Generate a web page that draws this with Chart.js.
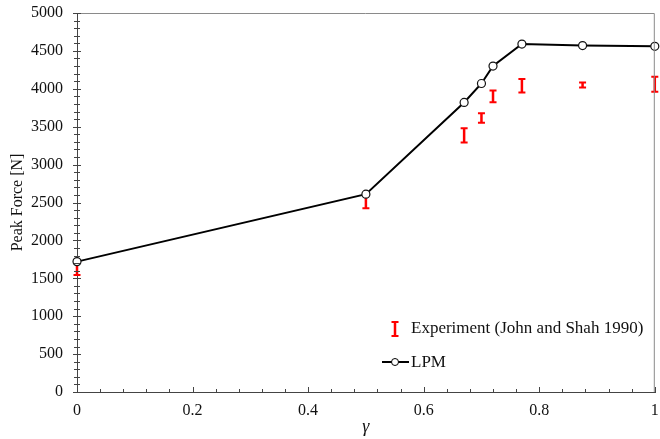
<!DOCTYPE html>
<html>
<head>
<meta charset="utf-8">
<script src="https://cdn.jsdelivr.net/npm/chart.js@4.4.0/dist/chart.umd.min.js"></script>
<style>
    html, body { margin: 0; padding: 0; background: #fff; }
</style>
</head>
<body>
<canvas id="myChart" width="660" height="439"></canvas>
<script>
// LPM model curve
const gammaLPM = [0, 0.5, 0.67, 0.70, 0.72, 0.77, 0.875, 1.0];
const forceLPM = [1720, 2610, 3820, 4070, 4300, 4590, 4570, 4560];

// Experiment (John and Shah 1990): mean and half range of the error bar
const gammaExp = [0, 0.5, 0.67, 0.70, 0.72, 0.77, 0.875, 1.0];
const forceExp = [1630, 2515, 3385, 3615, 3900, 4040, 4050, 4060];
const errExp = [85, 92, 95, 62, 77, 88, 33, 100];

const xTickLabels = ['0', '0.2', '0.4', '0.6', '0.8', '1'];
const yMax = 5000;

const serif = '"Liberation Serif", "Times New Roman", serif';

// error bars, minor ticks, frame and the in-plot legend
const extrasPlugin = {
    id: 'extras',
    beforeDatasetsDraw(chart) {
        const { ctx, scales: { x, y } } = chart;
        ctx.save();
        ctx.strokeStyle = '#ff0000';
        for (let i = 0; i < gammaExp.length; i++) {
            const px = x.getPixelForValue(gammaExp[i]);
            const top = y.getPixelForValue(forceExp[i] + errExp[i]);
            const bot = y.getPixelForValue(forceExp[i] - errExp[i]);
            ctx.lineWidth = 2.5;
            ctx.beginPath();
            ctx.moveTo(px, top);
            ctx.lineTo(px, bot);
            ctx.stroke();
            ctx.lineWidth = 2;
            ctx.beginPath();
            ctx.moveTo(px - 3.5, top);
            ctx.lineTo(px + 3.5, top);
            ctx.moveTo(px - 3.5, bot);
            ctx.lineTo(px + 3.5, bot);
            ctx.stroke();
        }
        ctx.restore();
    },
    afterDraw(chart) {
        const { ctx, chartArea: a, scales: { x, y } } = chart;
        ctx.save();

        // top and right frame
        ctx.strokeStyle = '#8a8a8a';
        ctx.lineWidth = 1;
        ctx.beginPath();
        ctx.moveTo(a.left, a.top + 0.5);
        ctx.lineTo(a.right - 0.5, a.top + 0.5);
        ctx.lineTo(a.right - 0.5, a.bottom);
        ctx.stroke();

        // tick marks
        ctx.strokeStyle = '#444';
        ctx.beginPath();
        for (let v = 0; v <= yMax; v += 100) {
            const py = Math.round(y.getPixelForValue(v)) + 0.5;
            const len = v % 500 === 0 ? 4 : 3;
            ctx.moveTo(a.left - len, py);
            ctx.lineTo(a.left + len, py);
        }
        for (let k = 0; k <= 25; k++) {
            const px = Math.round(x.getPixelForValue(k * 0.04)) + 0.5;
            const len = k % 5 === 0 ? 5 : 3;
            ctx.moveTo(px, a.bottom + 1);
            ctx.lineTo(px, a.bottom - len);
        }
        ctx.stroke();

        // legend
        const lx = 395;
        ctx.strokeStyle = '#ff0000';
        ctx.lineWidth = 2.5;
        ctx.beginPath();
        ctx.moveTo(lx, 322);
        ctx.lineTo(lx, 336);
        ctx.stroke();
        ctx.lineWidth = 2;
        ctx.beginPath();
        ctx.moveTo(lx - 3.5, 322);
        ctx.lineTo(lx + 3.5, 322);
        ctx.moveTo(lx - 3.5, 336);
        ctx.lineTo(lx + 3.5, 336);
        ctx.stroke();

        ctx.strokeStyle = '#000';
        ctx.lineWidth = 2;
        ctx.beginPath();
        ctx.moveTo(382, 362);
        ctx.lineTo(409, 362);
        ctx.stroke();
        ctx.fillStyle = '#fff';
        ctx.lineWidth = 1;
        ctx.beginPath();
        ctx.arc(lx, 362, 3.5, 0, Math.PI * 2);
        ctx.fill();
        ctx.stroke();

        ctx.fillStyle = '#111';
        ctx.font = '17px ' + serif;
        ctx.textBaseline = 'middle';
        ctx.fillText('Experiment (John and Shah 1990)', 411, 329);
        ctx.fillText('LPM', 411, 363);
        ctx.restore();
    }
};

document.addEventListener('DOMContentLoaded', function () {
    let ctx = document.getElementById('myChart').getContext('2d');
    new Chart(ctx, {
        type: 'scatter',
        data: {
            datasets: [{
                label: 'Experiment (John and Shah 1990)',
                data: gammaExp.map((g, i) => ({ x: g, y: forceExp[i] })),
                pointRadius: 0,
                showLine: false
            }, {
                label: 'LPM',
                data: gammaLPM.map((g, i) => ({ x: g, y: forceLPM[i] })),
                showLine: true,
                borderColor: '#000',
                borderWidth: 2,
                pointRadius: 4,
                pointBorderWidth: 1.2,
                pointBorderColor: '#111',
                pointBackgroundColor: '#fff',
                clip: false
            }]
        },
        options: {
            responsive: false,
            animation: false,
            devicePixelRatio: 1,
            layout: { padding: { top: 13, right: 2, left: 0, bottom: 0 } },
            plugins: {
                legend: { display: false },
                tooltip: { enabled: false }
            },
            scales: {
                x: {
                    type: 'linear',
                    min: 0,
                    max: 1,
                    afterBuildTicks: s => { s.ticks = xTickLabels.map(t => ({ value: parseFloat(t) })); },
                    afterFit: s => { s.height = 47; s.paddingLeft = 0; s.paddingRight = 0; },
                    grid: { display: false, drawTicks: false },
                    border: { display: true, color: '#444', width: 1 },
                    ticks: {
                        padding: 9,
                        color: '#111',
                        font: { family: serif, size: 16 },
                        callback: (v, i) => xTickLabels[i]
                    },
                    title: {
                        display: true,
                        text: 'γ',
                        color: '#111',
                        font: { family: serif, size: 18, style: 'italic' },
                        padding: { top: 0, bottom: 1 }
                    }
                },
                y: {
                    min: 0,
                    max: yMax,
                    afterFit: s => { s.width = 77; s.paddingTop = 0; s.paddingBottom = 0; },
                    grid: { display: false, drawTicks: false },
                    border: { display: true, color: '#444', width: 1 },
                    ticks: {
                        stepSize: 500,
                        padding: 14,
                        color: '#111',
                        font: { family: serif, size: 16 },
                        callback: v => String(v)
                    },
                    title: {
                        display: true,
                        text: 'Peak Force [N]',
                        color: '#111',
                        font: { family: serif, size: 16 },
                        padding: { top: 8, bottom: 0 }
                    }
                }
            }
        },
        plugins: [extrasPlugin]
    });
});
</script>
</body>
</html>
